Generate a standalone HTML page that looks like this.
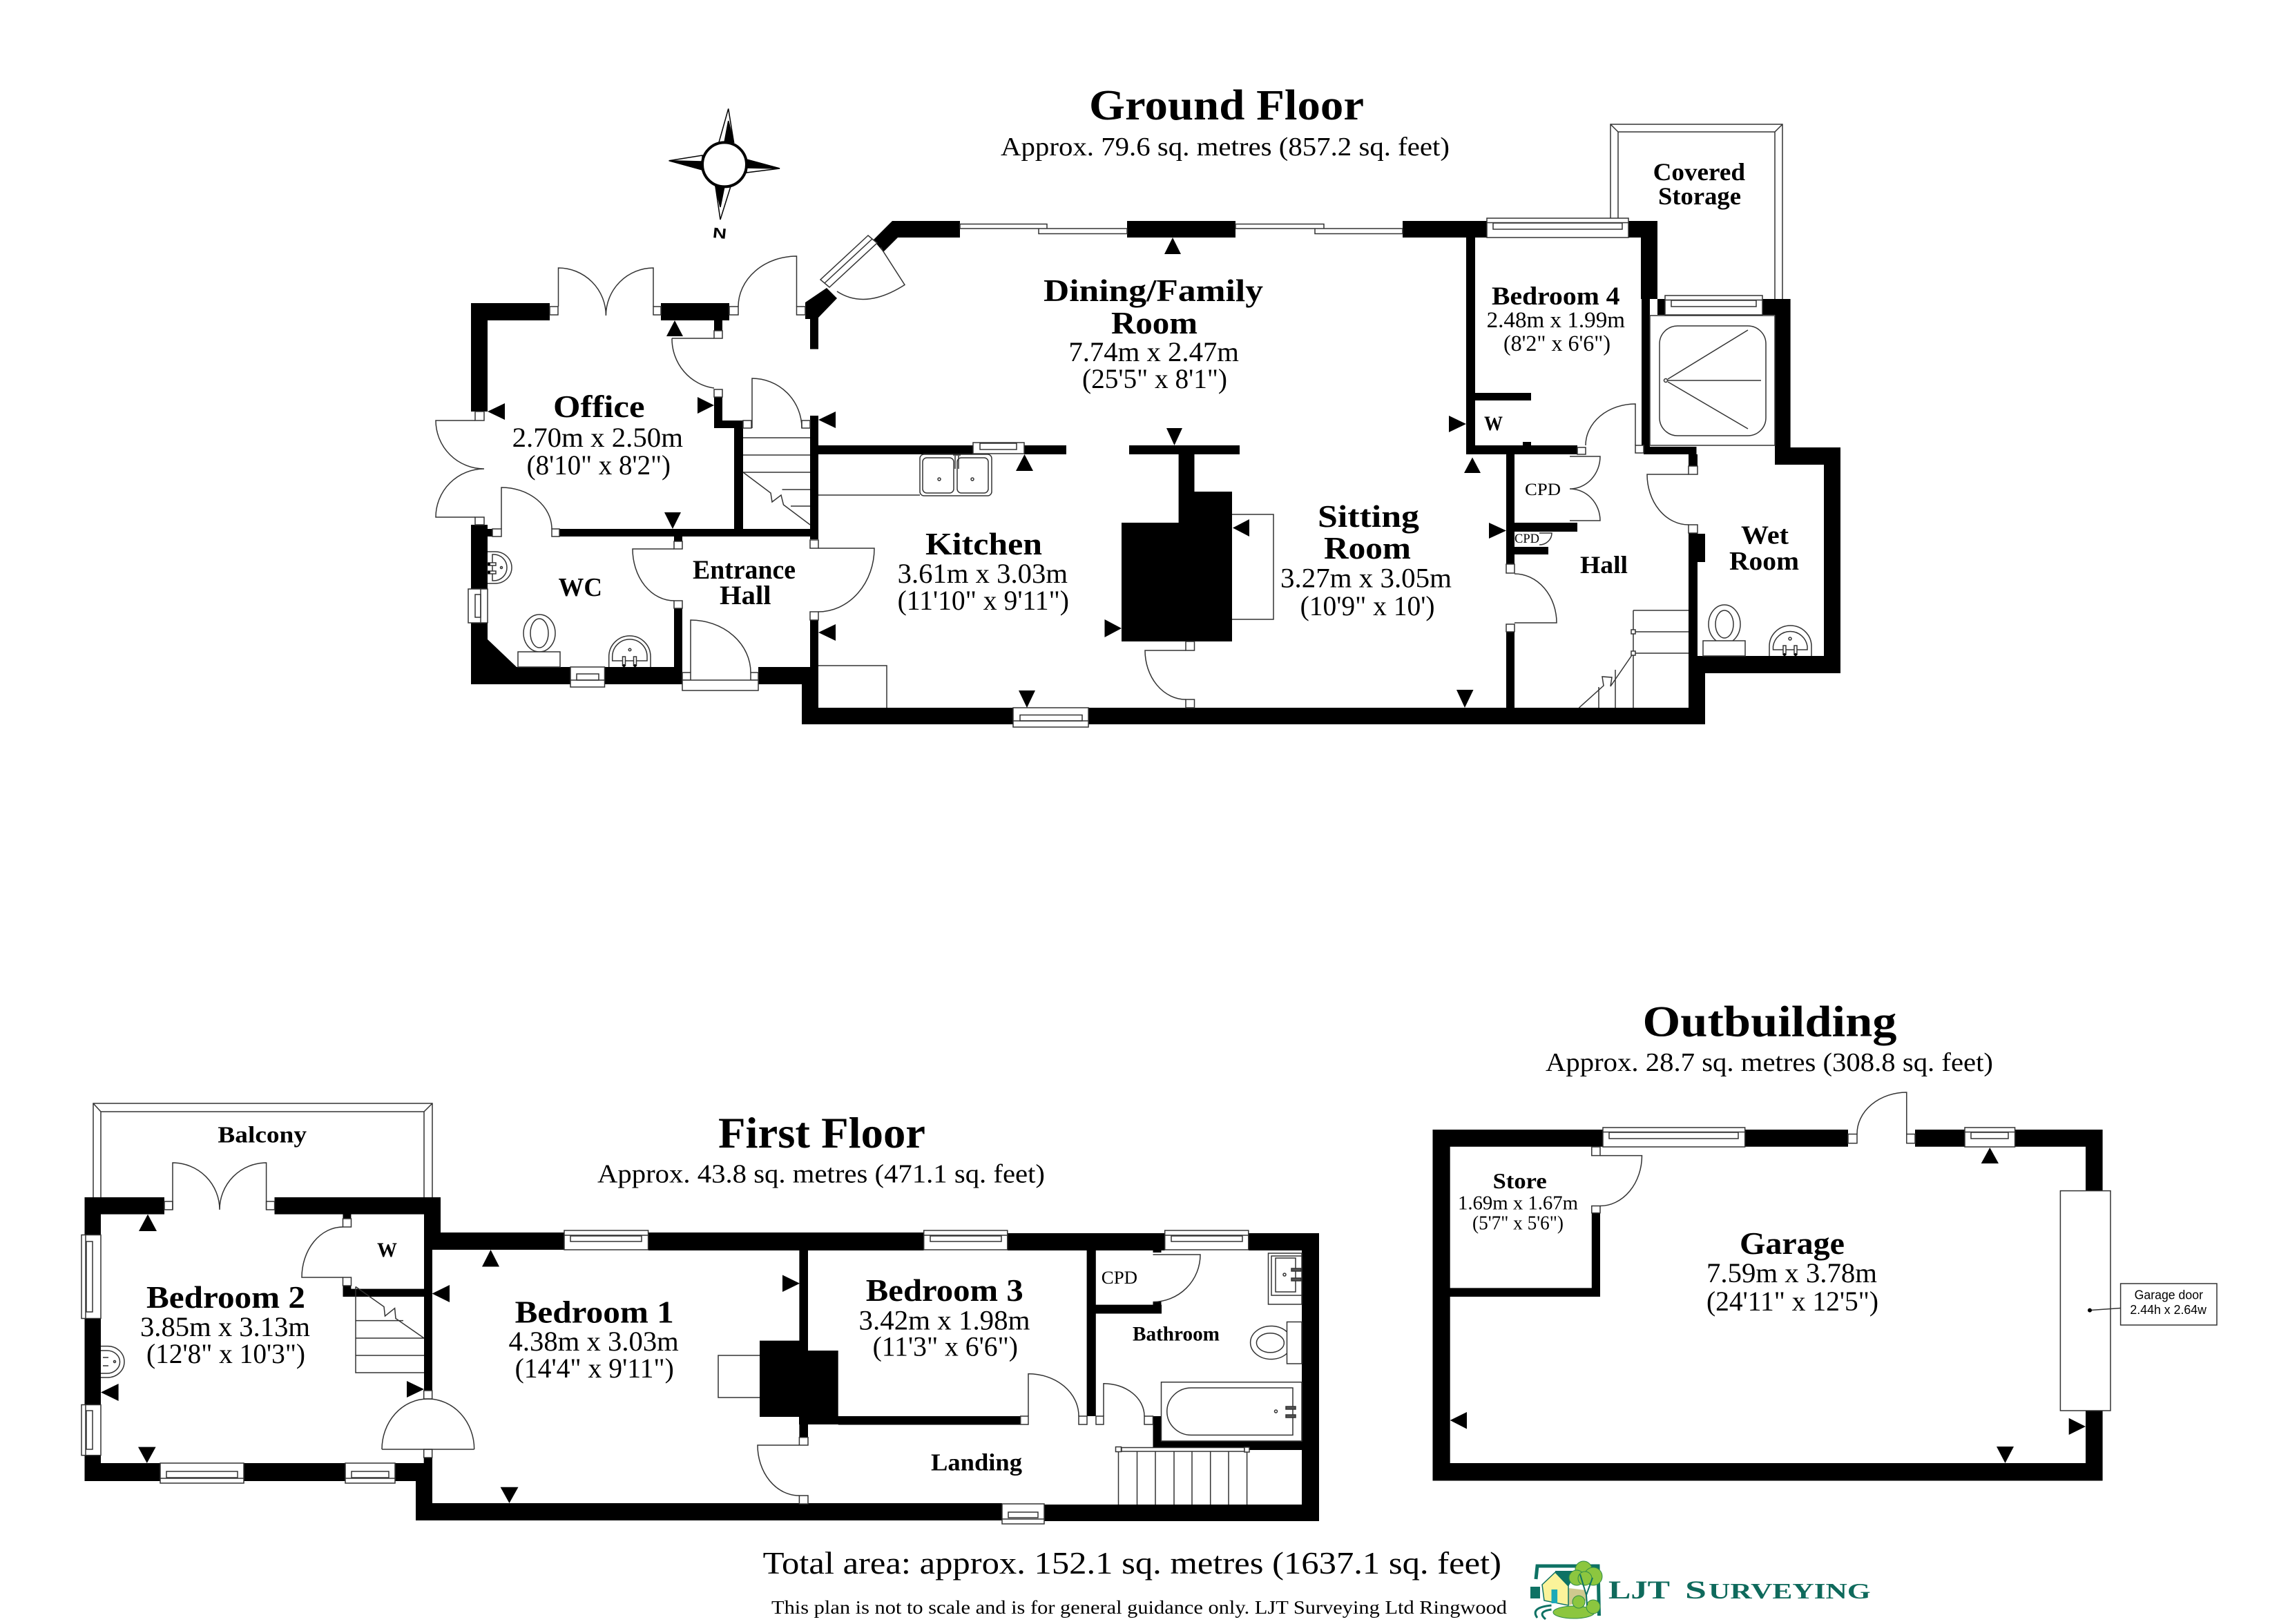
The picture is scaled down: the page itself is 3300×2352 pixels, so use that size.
<!DOCTYPE html>
<html><head><meta charset="utf-8"><title>Floor plan</title>
<style>
html,body{margin:0;padding:0;background:#fff}
svg{display:block}
text{font-family:"Liberation Serif",serif;fill:#000}
.b{font-weight:bold}
.l{fill:none;stroke:#333;stroke-width:1.5}
.w{fill:#fff;stroke:#333;stroke-width:1.5}
.t{fill:#000;stroke:none}
</style></head><body>
<svg xmlns="http://www.w3.org/2000/svg" width="3300" height="2352" viewBox="0 0 3300 2352">
<rect width="3300" height="2352" fill="#fff"/>

<!-- Balcony / covered storage -->
<g class="l">
<path d="M135 1734V1598H626V1734M146 1734V1610H614V1734M135 1598L146 1610M626 1598L614 1610"/>
<path d="M2332 317V180H2581V433M2343 317V191H2570V433M2332 180L2343 191M2581 180L2570 191"/>
</g>

<!-- WALLS -->
<path fill="#000" d="
M682 439H796V464H682z M682 439H706V596H682z M957 439H1056V464H957z M1034 464H1046V479H1034z
M1034 575H1046V620H1034z M1034 609H1076V620H1034z M1063 609H1076V777H1063z M1173 602H1185V781H1173z
M1185 645H1409V658H1185z M1483 645H1544V658H1483z M810 766H1173V777H810z M682 760H706V853H682z
M706 766H713V777H706z M976 777H988V784H976z M976 881H988V970H976z M682 902H706V991H682z
M682 966H826V991H682z M706 926L748 966H706z M875.5 966H988V991H875.5z M1098 966H1185V991H1098z
M1173 898H1185V1025H1173z M1161 966H1185V1049H1161z M1161 1025H1467V1049H1161z M1576 1025H2469V1049H1576z
M1292 320H1390V344H1292z M1632 320H1789V344H1632z M2031 320H2153V344H2031z M2358 320H2400V344H2358z
M2376 344H2400V433H2376z M2377 433H2389V647H2377z M2400 433H2411V456H2400z M2552 433H2592.6V456H2552z
M2570 433H2592.6V673H2570z M2570 648H2665V673H2570z M2641 648H2665V975H2641z M2445 950H2665V975H2445z
M2445 950H2469V1049H2445z M2445 772H2458V950H2445z M2458 773H2469V814H2458z M2380 647H2456.5V658H2380z
M2445 658H2458V675H2445z M2123 344H2136V658H2123z M2123 645H2284V658H2123z M2136 569H2217V580H2136z
M2205 640H2217V646H2205z M2181 658H2193V817H2181z M2181 915H2193V1025H2181z M2193 757H2284V770H2193z
M2193 792H2242V803H2193z
M1635 645H1795V658H1635z M1706.6 658H1729.5V760H1706.6z M1729.5 712H1784V929H1729.5z M1624 757H1784V929H1624z
M1292 320L1264.5 347.5L1279 365L1300 344H1292z
M1166 438V462H1173V505.6H1185V460L1212 432L1197 417z

M122.5 1734H238V1758.6H122.5z M397.5 1734H638V1758.6H397.5z M122.5 1734H146V1788.5H122.5z
M122.5 1909.5H146V2034.5H122.5z M122.5 2107.7H146V2145H122.5z M122.5 2119H232V2145H122.5z
M353 2119H500V2145H353z M572 2119H626V2145H572z M614 1734H638V1810H614z M614 1758H626V2014H614z
M613.7 2111H626V2145H613.7z M602 2145H626V2202H602z M602 2177H1451V2202H602z M1512 2179H1910V2203H1512z
M638 1785H817V1810H638z M938.6 1785H1337.7V1811H938.6z M1458.8 1786H1686.7V1811H1458.8z
M1807.8 1786H1910V1811H1807.8z M1885 1786H1910V2203H1885z M496.5 1866.6H614V1878H496.5z
M496.5 1758H508.4V1765H496.5z M496.5 1862H508.4V1867H496.5z
M1157.4 1810H1170V2082H1157.4z M1100 1941.6H1170V2052H1100z M1157 1956H1213.7V2063H1157z
M1213.7 2051H1477.7V2063.5H1213.7z M1573.6 1811H1586.8V2051H1573.6z M1586.8 1889.6H1682V1902.5H1586.8z
M1669.5 1885H1681.5V1890H1669.5z M1669.5 2051H1681.5V2100H1669.5z M1669.5 2087H1885V2100H1669.5z
M1669.5 1811H1681.5V1814H1669.5z

M2074.5 1636H2321V1660.8H2074.5z M2526.7 1636H2676V1660.8H2526.7z M2773 1636H2845V1660.8H2773z
M2917.6 1636H3044.6V1660.8H2917.6z M2074.5 1636H2099.7V2144.5H2074.5z M2074.5 2119H3044.6V2144.5H2074.5z
M3020 1636H3044.6V1725H3020z M3020 2043H3044.6V2144.5H3020z M2304.8 1756.7H2317V1878H2304.8z
M2099.7 1865.4H2317V1878H2099.7z"/>

<!-- JAMBS -->
<g class="w">
<rect x="796" y="444" width="12" height="12"/><rect x="946" y="444" width="11" height="12"/>
<rect x="1034" y="479" width="12" height="11"/><rect x="1034" y="564" width="12" height="11"/>
<rect x="1076" y="609" width="12" height="11"/><rect x="1161" y="609" width="12" height="11"/>
<rect x="688" y="596" width="13" height="13"/><rect x="688" y="749" width="13" height="11"/>
<rect x="713" y="766" width="13" height="11"/><rect x="799" y="766" width="11" height="11"/>
<rect x="976" y="784" width="12" height="11"/><rect x="976" y="870" width="12" height="11"/>
<rect x="1173" y="782" width="12" height="12"/><rect x="1173" y="886" width="12" height="12"/>
<rect x="988" y="974" width="12" height="11"/><rect x="1087" y="974" width="11" height="11"/>
<rect x="1056" y="444" width="13" height="12"/><rect x="1153.5" y="444" width="12.5" height="12"/>
<rect x="2284" y="648" width="12" height="10"/><rect x="2368" y="645" width="12" height="11"/>
<rect x="2445" y="675" width="13" height="12"/><rect x="2445" y="760" width="13" height="12"/>
<rect x="2181" y="817" width="12" height="13"/><rect x="2181" y="904" width="12" height="11"/>
<rect x="1717" y="929" width="12.5" height="13"/><rect x="1717" y="1013" width="12.5" height="12"/>
<rect x="238" y="1740" width="12" height="12"/><rect x="385.6" y="1740" width="12" height="12"/>
<rect x="496.5" y="1765" width="12" height="12"/><rect x="496.5" y="1850" width="12" height="12"/>
<rect x="613.7" y="2014" width="12" height="12"/><rect x="613.7" y="2099" width="12" height="12"/>
<rect x="1157.4" y="2081.7" width="12.6" height="11.3"/><rect x="1157.4" y="2166" width="12.6" height="12"/>
<rect x="1477.7" y="2051" width="11.3" height="12"/><rect x="1562" y="2051" width="12" height="12"/>
<rect x="1587" y="2051" width="11" height="12"/><rect x="1657" y="2051" width="12.5" height="12"/>
<rect x="2676" y="1642.5" width="13" height="13.2"/><rect x="2760.8" y="1642.5" width="12.2" height="13.2"/>
<rect x="2304.8" y="1661" width="12.2" height="12.6"/><rect x="2304.8" y="1746.5" width="12.2" height="10.2"/>
<rect x="988" y="985" width="110" height="15"/>
<rect x="2983.4" y="1724.6" width="72.6" height="318.4"/>
</g>

<!-- WINDOWS -->
<g class="w">
<rect x="1409" y="641" width="74" height="16"/><rect x="1419" y="642" width="53" height="9"/>
<rect x="2153" y="316" width="205" height="28"/><path d="M2153 322.5H2358"/><rect x="2162" y="323" width="187" height="9"/>
<rect x="2411" y="428" width="141" height="28"/><path d="M2411 434.5H2552"/><rect x="2420" y="435" width="123" height="9"/>
<rect x="826" y="966" width="49.5" height="29"/><rect x="835" y="976" width="32" height="9"/><path d="M826 985H875.5"/>
<rect x="1467" y="1025" width="109" height="28"/><rect x="1477" y="1035.5" width="90" height="8.5"/><path d="M1467 1044H1576"/>
<rect x="678" y="853" width="28" height="49"/><rect x="688" y="861" width="8" height="33"/><path d="M696 853V902"/>
<rect x="232" y="2119" width="121" height="29"/><rect x="241" y="2131" width="103" height="9"/><path d="M232 2141H353"/>
<rect x="500" y="2119" width="72" height="29"/><rect x="509" y="2131" width="54" height="9"/><path d="M500 2141H572"/>
<rect x="817" y="1782" width="121.6" height="28"/><path d="M817 1789H938.6"/><rect x="826" y="1790" width="103" height="8"/>
<rect x="1337.7" y="1782" width="121.1" height="28"/><path d="M1337.7 1789H1458.8"/><rect x="1347" y="1790" width="103" height="8"/>
<rect x="1686.7" y="1782" width="121.1" height="28"/><path d="M1686.7 1789H1807.8"/><rect x="1696" y="1790" width="103" height="8"/>
<rect x="1451" y="2178" width="61" height="29"/><rect x="1460" y="2190" width="43" height="8"/><path d="M1451 2200H1512"/>
<rect x="118" y="1788.5" width="28" height="121"/><path d="M124 1788.5V1909.5"/><rect x="125" y="1798" width="9" height="102"/>
<rect x="118" y="2034.5" width="28" height="73.2"/><path d="M124 2034.5V2107.7"/><rect x="125" y="2043" width="9" height="56"/>
<rect x="2321" y="1633" width="205.7" height="28"/><path d="M2321 1639.5H2526.7"/><rect x="2330" y="1640" width="187" height="9"/>
<rect x="2845" y="1633" width="72.6" height="28"/><path d="M2845 1639.5H2917.6"/><rect x="2854" y="1640" width="54" height="9"/>
<path d="M1390 331V324.5H1516V331M1504 331V338.5H1632V331M1390 331H1632"/>
<path d="M1789 331V324.5H1917V331M1904 331V338.5H2031V331M1789 331H2031"/>
<polygon points="1257,341 1188,405 1201,416 1270,352"/><path d="M1263 346L1194 410"/>
</g>

<!-- DOORS -->
<g class="l">
<path d="M808.5 444V388A69 69 0 0 1 877.4 457M946 444V388A69 69 0 0 0 877.4 457"/>
<path d="M688 609H631A70 70 0 0 0 701 679M688 749H631A70 70 0 0 1 701 679"/>
<path d="M973 490H1034M973 490A70 72 0 0 0 1034 562"/>
<path d="M1089 620V548A72 72 0 0 1 1161 620"/>
<path d="M726 766V706A73 60 0 0 1 799 766"/>
<path d="M976 795H916A60 75 0 0 0 976 870"/>
<path d="M1185 794H1266A81 92 0 0 1 1185 886"/>
<path d="M1000 974V898A87 76 0 0 1 1087 974"/>
<path d="M1153.5 444V371A84.5 73 0 0 0 1069 444"/>
<path d="M1275 358L1310 412.5Q1253 449 1212 422"/>
<path d="M1717 942H1658A59 71 0 0 0 1717 1013"/>
<path d="M2193 902H2254A61 71 0 0 0 2193 831"/>
<path d="M2368 645V585A72 60 0 0 0 2296 645"/>
<path d="M2445 687H2385A60 73 0 0 0 2445 760"/>
<path d="M2273 661H2317A44 47 0 0 1 2273 708M2273 754H2317A44 46 0 0 0 2273 708"/>
<path d="M2229 772H2247A18 17 0 0 1 2229 789"/>
<path d="M250 1752V1684A68 68 0 0 1 318 1752M385.6 1752V1684A67.6 68 0 0 0 318 1752"/>
<path d="M496.5 1850H437A59.5 73 0 0 1 496.5 1777"/>
<path d="M553 2099H686.7M553 2099A66 73 0 0 1 619 2026A67 73 0 0 1 686.7 2099"/>
<path d="M1157 2093H1097A60 73 0 0 0 1157 2166"/>
<path d="M1489 2051V1989.6A73 61 0 0 1 1562 2051M1598 2051V2003.7A59 47 0 0 1 1657 2051"/>
<path d="M1669.5 1817H1738A68.5 68.5 0 0 1 1669.5 1885.5"/>
<path d="M2760.8 1642.5V1582A72 60 0 0 0 2689 1642.5"/>
<path d="M2317 1673.6H2377.5A60.5 73 0 0 1 2317 1746.5"/>

<!-- Stairs -->
<path d="M1076 634H1173M1076 659H1173M1076 684H1173M1132.5 709H1173M1145 733H1173"/>
<path d="M1076 684L1116 714L1118 727L1131 717L1134.5 731L1173 760"/>
<path d="M2365 884H2445M2365 915H2445M2365 946H2445M2365 884V1025M2339 970V1025M2315 995V1025"/>
<path d="M2286.5 1025L2322 993L2320 980L2334 981L2332 994L2365 946"/>
<path d="M515 1863.5V1988H614M515 1912.6H584M515 1938H614M515 1963H614"/>
<path d="M515 1863.5L556 1892.5L557.5 1906L571.6 1894.7L573 1909.5L614 1938"/>
<path d="M1619.5 2100V2179M1646.5 2100V2179M1673 2100V2179M1700 2100V2179M1726 2100V2179M1752.7 2100V2179M1779 2100V2179M1805.6 2100V2179"/>
<rect x="1624" y="2096.5" width="178" height="5.5" fill="#fff"/>
<rect x="1615.5" y="2095.5" width="8" height="7" fill="#fff"/>
<rect x="1802" y="2096" width="7" height="7" fill="#fff"/>

<!-- Kitchen fittings -->
<path d="M1185 717H1332"/>
<rect x="1332" y="658" width="104" height="60" rx="6"/>
<rect x="1336" y="663" width="45" height="51" rx="6"/>
<rect x="1386" y="663" width="45" height="51" rx="6"/>
<circle cx="1360" cy="694" r="2"/><circle cx="1408" cy="694" r="2"/>
<path d="M1380 659H1391M1383 660V679M1388 660V679"/>
<path d="M1185 964H1284V1025"/>

<!-- Fireplace -->
<path d="M1784 745H1844V897H1784"/>
<path d="M1100 1963H1040V2024H1100"/>

<!-- WC -->
<path d="M706 799H717A24 23 0 0 1 717 845H706"/>
<path d="M713 803H715A19 19 0 0 1 715 841H713z"/>
<rect x="706" y="815" width="12" height="4" fill="#fff"/><rect x="706" y="827" width="12" height="4" fill="#fff"/>
<circle cx="726" cy="822" r="1.5"/>
<ellipse cx="781" cy="917" rx="23" ry="27"/><ellipse cx="781" cy="917" rx="13" ry="21"/>
<rect x="750" y="944" width="61" height="22" fill="#fff"/>
<path d="M881.7 966V951A30 30 0 0 1 942 951V966"/>
<path d="M886.7 957V951A25 25 0 0 1 937 951V957z"/>
<rect x="901.5" y="951" width="4" height="13" fill="#fff"/><rect x="917.5" y="951" width="4" height="13" fill="#fff"/>
<circle cx="912" cy="941" r="1.8"/>

<!-- Wet room / shower -->
<rect x="2389" y="457" width="181" height="188"/>
<rect x="2403" y="472" width="154" height="159" rx="26"/>
<circle cx="2412" cy="551" r="2.5"/>
<path d="M2415 549L2531 478M2415 551H2550M2415 553L2531 621"/>
<ellipse cx="2497" cy="904" rx="23" ry="28"/><ellipse cx="2497" cy="904" rx="13" ry="20"/>
<rect x="2466" y="928" width="61" height="22" fill="#fff"/>
<path d="M2562 950V936A30.5 30 0 0 1 2623 936V950"/>
<path d="M2567.5 941V936A25 25 0 0 1 2617 936V941z"/>
<rect x="2582" y="935" width="4" height="13" fill="#fff"/><rect x="2598" y="935" width="4" height="13" fill="#fff"/>
<circle cx="2592" cy="925" r="2"/>
<rect x="2362" y="912" width="6" height="6" fill="#fff"/><rect x="2362" y="943" width="6" height="6" fill="#fff"/>

<!-- F1 basin -->
<path d="M146 1949.6H156A24 22.7 0 0 1 156 1995H146"/>
<path d="M146 1956H155A18 16 0 0 1 155 1989H146"/>
<path d="M149 1966H157M149 1978H157"/><circle cx="166" cy="1972" r="1.5"/>

<!-- Bathroom -->
<rect x="1836.5" y="1815" width="48.5" height="74"/>
<path d="M1885 1819H1841V1876H1885"/><rect x="1847" y="1822" width="29" height="49"/>
<circle cx="1860" cy="1846" r="2"/><rect x="1870" y="1837" width="14" height="4" fill="#555"/><rect x="1870" y="1851" width="14" height="4" fill="#555"/>
<rect x="1863.5" y="1914.5" width="21.5" height="60.5"/>
<path d="M1863.5 1929A30 24 0 1 0 1863.5 1960"/><ellipse cx="1839.4" cy="1944.8" rx="20" ry="14"/>
<rect x="1681.5" y="2001.7" width="203.5" height="85.3"/>
<path d="M1872 2010H1725A35 34 0 0 0 1725 2078.4H1872z"/>
<circle cx="1847.5" cy="2044" r="2"/><rect x="1862" y="2037" width="14" height="4" fill="#555"/><rect x="1862" y="2049" width="14" height="4" fill="#555"/>
<!-- Garage door label -->
<rect x="3070.6" y="1859" width="139.4" height="60"/>
<path d="M3026 1897.6L3070.6 1894.5"/>
</g>
<circle cx="3026" cy="1897.6" r="3" fill="#000"/>
<g fill="#000">
<circle cx="903.5" cy="964" r="2"/><circle cx="919.5" cy="964" r="2"/>
<circle cx="2584" cy="948" r="2"/><circle cx="2600" cy="948" r="2"/>
<circle cx="708" cy="817" r="2"/><circle cx="708" cy="829" r="2"/>
</g>

<!-- Triangles -->
<g class="t">
<polygon points="977,464 965,487 989,487"/>
<polygon points="706,596 731,584 731,608"/>
<polygon points="1034,587 1010,575 1010,599"/>
<polygon points="1185,608 1210,596 1210,620"/>
<polygon points="974,766 962,742 986,742"/>
<polygon points="1483.5,658 1471,682 1496,682"/>
<polygon points="1185,916 1210,904 1210,928"/>
<polygon points="1487,1025 1475,1000 1499,1000"/>
<polygon points="1698,344 1686,368 1710,368"/>
<polygon points="1700.5,645 1689,620 1712,620"/>
<polygon points="1785,764.5 1809,752 1809,777"/>
<polygon points="1624,910 1599.5,897 1599.5,923"/>
<polygon points="2121,1025 2109,999 2133.5,999"/>
<polygon points="2123,614 2098,602 2098,626"/>
<polygon points="2132,662.5 2120,685 2144,685"/>
<polygon points="2181,768.5 2156,757 2156,780"/>
<polygon points="214,1758.6 201,1783 227,1783"/>
<polygon points="146,2016.5 171.6,2004 171.6,2029"/>
<polygon points="614,2012 589,2000 589,2024"/>
<polygon points="212.8,2119 200,2095.6 225.6,2095.6"/>
<polygon points="710.5,1810 698,1834.5 723,1834.5"/>
<polygon points="625.6,1873.5 651,1861 651,1886"/>
<polygon points="1158,1858.7 1133,1846.5 1133,1871"/>
<polygon points="737.5,2177 724.6,2153.7 750.5,2153.7"/>
<polygon points="2881.3,1662 2868.7,1685 2894,1685"/>
<polygon points="2099.7,2057 2124,2045 2124,2069.5"/>
<polygon points="3020,2066 2995.7,2053.7 2995.7,2078"/>
<polygon points="2903.5,2119 2891,2095 2916,2095"/>
</g>

<!-- Compass -->
<g stroke="#000" stroke-width="1.5">
<polygon fill="#fff" points="1054.7,157.4 1041,206 1062.5,206"/>
<polygon fill="#000" points="1054.7,175 1049,206 1062.5,206"/>
<polygon fill="#fff" points="1129,244 1081,231 1081,250"/>
<polygon fill="#000" points="1129,244 1081,231 1081,243"/>
<polygon fill="#fff" points="1043,318 1036,270 1058,270"/>
<polygon fill="#000" points="1043,300 1036,270 1049,270"/>
<polygon fill="#fff" points="968.6,232.7 1017,225 1017,246"/>
<polygon fill="#000" points="968.6,232.7 1017,234 1017,246"/>
</g>
<circle cx="1049" cy="238.4" r="32" fill="#fff" stroke="#000" stroke-width="4"/>
<text x="1032" y="345" transform="rotate(6 1042 338)" style="font-family:'Liberation Sans',sans-serif;font-weight:bold;font-size:21px" textLength="20" lengthAdjust="spacingAndGlyphs">N</text>

<!-- TEXT: Titles -->
<g>
<text class="b" x="1577" y="173" font-size="62" textLength="398" lengthAdjust="spacingAndGlyphs">Ground Floor</text>
<text x="1449" y="225" font-size="38" textLength="650" lengthAdjust="spacingAndGlyphs">Approx. 79.6 sq. metres (857.2 sq. feet)</text>
<text class="b" x="1040" y="1662" font-size="64" textLength="300" lengthAdjust="spacingAndGlyphs">First Floor</text>
<text x="865" y="1712.6" font-size="38" textLength="648" lengthAdjust="spacingAndGlyphs">Approx. 43.8 sq. metres (471.1 sq. feet)</text>
<text class="b" x="2378.5" y="1500.6" font-size="64" textLength="368" lengthAdjust="spacingAndGlyphs">Outbuilding</text>
<text x="2238" y="1551" font-size="38" textLength="648" lengthAdjust="spacingAndGlyphs">Approx. 28.7 sq. metres (308.8 sq. feet)</text>
<text x="1104.6" y="2279" font-size="46" textLength="1069.4" lengthAdjust="spacingAndGlyphs">Total area: approx. 152.1 sq. metres (1637.1 sq. feet)</text>
<text x="1117" y="2337" font-size="27" textLength="1065" lengthAdjust="spacingAndGlyphs">This plan is not to scale and is for general guidance only. LJT Surveying Ltd Ringwood</text>

<!-- Ground rooms -->
<text class="b" x="801" y="604" font-size="46" textLength="132.5" lengthAdjust="spacingAndGlyphs">Office</text>
<text x="741.6" y="647" font-size="40" textLength="247.4" lengthAdjust="spacingAndGlyphs">2.70m x 2.50m</text>
<text x="762.6" y="687" font-size="40" textLength="208.4" lengthAdjust="spacingAndGlyphs">(8'10" x 8'2")</text>
<text class="b" x="808.5" y="863" font-size="38" textLength="63.5" lengthAdjust="spacingAndGlyphs">WC</text>
<text class="b" x="1003" y="838" font-size="39" textLength="149" lengthAdjust="spacingAndGlyphs">Entrance</text>
<text class="b" x="1042" y="875" font-size="39" textLength="74.6" lengthAdjust="spacingAndGlyphs">Hall</text>
<text class="b" x="1340" y="803" font-size="46" textLength="169" lengthAdjust="spacingAndGlyphs">Kitchen</text>
<text x="1299.6" y="844" font-size="40" textLength="246.4" lengthAdjust="spacingAndGlyphs">3.61m x 3.03m</text>
<text x="1299.6" y="883" font-size="40" textLength="248.4" lengthAdjust="spacingAndGlyphs">(11'10" x 9'11")</text>
<text class="b" x="1511" y="436" font-size="46" textLength="318" lengthAdjust="spacingAndGlyphs">Dining/Family</text>
<text class="b" x="1609" y="483" font-size="46" textLength="125" lengthAdjust="spacingAndGlyphs">Room</text>
<text x="1547.4" y="523" font-size="40" textLength="246.6" lengthAdjust="spacingAndGlyphs">7.74m x 2.47m</text>
<text x="1567" y="562" font-size="40" textLength="210" lengthAdjust="spacingAndGlyphs">(25'5" x 8'1")</text>
<text class="b" x="2393.6" y="261" font-size="36" textLength="133.4" lengthAdjust="spacingAndGlyphs">Covered</text>
<text class="b" x="2401" y="296" font-size="36" textLength="120" lengthAdjust="spacingAndGlyphs">Storage</text>
<text class="b" x="2160" y="441" font-size="37" textLength="185.5" lengthAdjust="spacingAndGlyphs">Bedroom 4</text>
<text x="2152.6" y="474" font-size="33" textLength="200.4" lengthAdjust="spacingAndGlyphs">2.48m x 1.99m</text>
<text x="2177" y="508" font-size="33" textLength="155" lengthAdjust="spacingAndGlyphs">(8'2" x 6'6")</text>
<text class="b" x="2149" y="623" font-size="30" textLength="27" lengthAdjust="spacingAndGlyphs">W</text>
<text x="2208" y="717" font-size="25" textLength="52" lengthAdjust="spacingAndGlyphs">CPD</text>
<text x="2193" y="786" font-size="19" textLength="36" lengthAdjust="spacingAndGlyphs">CPD</text>
<text class="b" x="1908" y="763" font-size="46" textLength="147" lengthAdjust="spacingAndGlyphs">Sitting</text>
<text class="b" x="1917" y="809" font-size="46" textLength="126" lengthAdjust="spacingAndGlyphs">Room</text>
<text x="1854" y="850.6" font-size="40" textLength="248" lengthAdjust="spacingAndGlyphs">3.27m x 3.05m</text>
<text x="1882.6" y="891" font-size="40" textLength="195" lengthAdjust="spacingAndGlyphs">(10'9" x 10')</text>
<text class="b" x="2288" y="830" font-size="36" textLength="69" lengthAdjust="spacingAndGlyphs">Hall</text>
<text class="b" x="2521" y="787.5" font-size="38" textLength="69" lengthAdjust="spacingAndGlyphs">Wet</text>
<text class="b" x="2504" y="825" font-size="38" textLength="101" lengthAdjust="spacingAndGlyphs">Room</text>

<!-- First floor rooms -->
<text class="b" x="315.4" y="1654.5" font-size="34" textLength="128.6" lengthAdjust="spacingAndGlyphs">Balcony</text>
<text class="b" x="212" y="1894" font-size="46" textLength="230" lengthAdjust="spacingAndGlyphs">Bedroom 2</text>
<text x="203" y="1935" font-size="40" textLength="246" lengthAdjust="spacingAndGlyphs">3.85m x 3.13m</text>
<text x="212" y="1973.8" font-size="40" textLength="230" lengthAdjust="spacingAndGlyphs">(12'8" x 10'3")</text>
<text class="b" x="546" y="1820" font-size="30" textLength="29" lengthAdjust="spacingAndGlyphs">W</text>
<text class="b" x="745.6" y="1915.7" font-size="46" textLength="230.2" lengthAdjust="spacingAndGlyphs">Bedroom 1</text>
<text x="736.5" y="1956" font-size="40" textLength="246.3" lengthAdjust="spacingAndGlyphs">4.38m x 3.03m</text>
<text x="745.6" y="1995" font-size="40" textLength="230.2" lengthAdjust="spacingAndGlyphs">(14'4" x 9'11")</text>
<text class="b" x="1253.8" y="1883.8" font-size="46" textLength="227.9" lengthAdjust="spacingAndGlyphs">Bedroom 3</text>
<text x="1243.5" y="1925.3" font-size="40" textLength="248" lengthAdjust="spacingAndGlyphs">3.42m x 1.98m</text>
<text x="1263.6" y="1963.5" font-size="40" textLength="210.4" lengthAdjust="spacingAndGlyphs">(11'3" x 6'6")</text>
<text x="1594.8" y="1859" font-size="26" textLength="52.2" lengthAdjust="spacingAndGlyphs">CPD</text>
<text class="b" x="1640" y="1941.5" font-size="30" textLength="126" lengthAdjust="spacingAndGlyphs">Bathroom</text>
<text class="b" x="1348" y="2129.5" font-size="35" textLength="132" lengthAdjust="spacingAndGlyphs">Landing</text>

<!-- Outbuilding rooms -->
<text class="b" x="2161.7" y="1721" font-size="32" textLength="78" lengthAdjust="spacingAndGlyphs">Store</text>
<text x="2111" y="1751.6" font-size="28" textLength="174" lengthAdjust="spacingAndGlyphs">1.69m x 1.67m</text>
<text x="2132" y="1780.7" font-size="28" textLength="132" lengthAdjust="spacingAndGlyphs">(5'7" x 5'6")</text>
<text class="b" x="2519" y="1816" font-size="46" textLength="152" lengthAdjust="spacingAndGlyphs">Garage</text>
<text x="2471" y="1857" font-size="40" textLength="247" lengthAdjust="spacingAndGlyphs">7.59m x 3.78m</text>
<text x="2471" y="1898" font-size="40" textLength="249" lengthAdjust="spacingAndGlyphs">(24'11" x 12'5")</text>
<text x="3090.6" y="1881.7" style="font-family:'Liberation Sans',sans-serif;font-size:18px" textLength="99.4" lengthAdjust="spacingAndGlyphs">Garage door</text>
<text x="3084.4" y="1903" style="font-family:'Liberation Sans',sans-serif;font-size:18px" textLength="110.6" lengthAdjust="spacingAndGlyphs">2.44h x 2.64w</text>
</g>

<!-- Logo -->
<g>
<path d="M2224 2287L2226 2268H2314L2315.5 2340" fill="none" stroke="#0e7264" stroke-width="5"/>
<rect x="2216" y="2298" width="14" height="17" fill="#0e7264"/>
<polygon points="2252,2275 2283,2275 2271,2298 2252,2278" fill="#0e7264"/>
<polygon points="2271,2300 2296.5,2303 2296.5,2318 2271,2325" fill="#cfc98f"/>
<polygon points="2233,2295 2252,2277 2271,2297 2271,2325 2236,2318" fill="#fbf39a" stroke="#0e7264" stroke-width="1.5"/>
<rect x="2246.5" y="2302" width="8.6" height="20" fill="#1ba9b8"/>
<g fill="#8cc63f" stroke="#2e8b47" stroke-width="1">
<circle cx="2293" cy="2273" r="12"/><circle cx="2283" cy="2285" r="11"/><circle cx="2307" cy="2283" r="13"/><circle cx="2295" cy="2286" r="10"/>
<ellipse cx="2279" cy="2335" rx="30" ry="9"/><circle cx="2286" cy="2320" r="9"/><circle cx="2307" cy="2327" r="10"/>
</g>
<path d="M2288 2280L2297 2310M2306 2285L2297 2310L2298 2325" fill="none" stroke="#0e7264" stroke-width="2"/>
<path d="M2246.5 2325Q2215 2328 2226 2343M2246.5 2331Q2225 2334 2238 2345" fill="none" stroke="#0e7264" stroke-width="3"/>
<g style="font-family:'Liberation Sans',sans-serif;font-weight:bold">
<text x="2329" y="2315" font-size="37" textLength="89" lengthAdjust="spacingAndGlyphs" style="fill:#0f6a5c">LJT</text>
<text x="2440" y="2315" font-size="37" textLength="31" lengthAdjust="spacingAndGlyphs" style="fill:#0f6a5c">S</text>
<text x="2474" y="2315" font-size="32" textLength="234.6" lengthAdjust="spacingAndGlyphs" style="fill:#0f6a5c">URVEYING</text>
</g>
</g>
</svg>
</body></html>
